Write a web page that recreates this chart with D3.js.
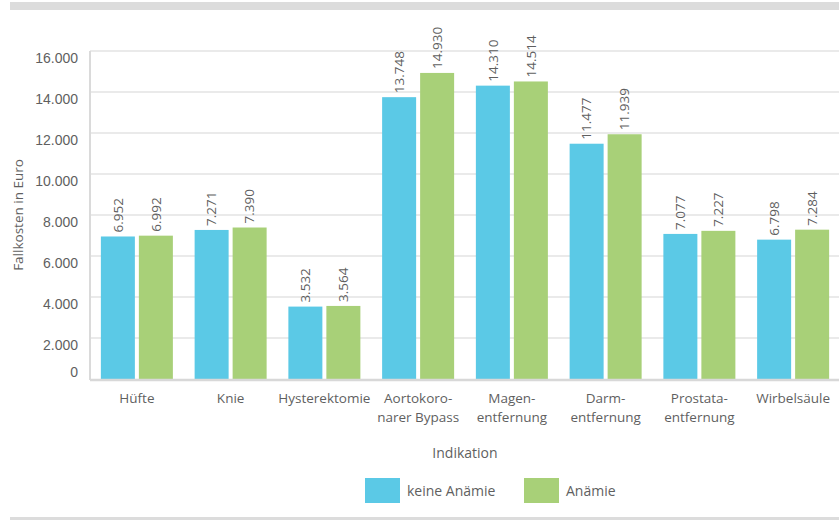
<!DOCTYPE html>
<html>
<head>
<meta charset="utf-8">
<script src="https://cdn.jsdelivr.net/npm/d3@7"></script>
<style>
  body { margin: 0; background: #fff; }
  svg { display: block; font-family: "Open Sans", sans-serif; }
</style>
</head>
<body>
<svg class="chart"></svg>
<script>
// data
var categories = ["Hüfte", "Knie", "Hysterektomie", "Aortokoronarer Bypass", "Magenentfernung", "Darmentfernung", "Prostataentfernung", "Wirbelsäule"];
var categoryLines = [["Hüfte"], ["Knie"], ["Hysterektomie"], ["Aortokoro-", "narer Bypass"], ["Magen-", "entfernung"], ["Darm-", "entfernung"], ["Prostata-", "entfernung"], ["Wirbelsäule"]];
var seriesNames = ["keine Anämie", "Anämie"];
var keineAnaemie = [6952, 7271, 3532, 13748, 14310, 11477, 7077, 6798];
var anaemie = [6992, 7390, 3564, 14930, 14514, 11939, 7227, 7284];
var yTicks = [0, 2000, 4000, 6000, 8000, 10000, 12000, 14000, 16000];
var colors = ["#5bc9e6", "#a8d078"];

var width = 839, height = 520;
var margin = {top: 51, right: 0, bottom: 141, left: 90};
var plotW = 750, plotH = height - margin.top - margin.bottom;

var de = d3.formatLocale({decimal: ",", thousands: ".", grouping: [3], currency: ["", " €"]});
var fmt = de.format(",d");

var data = categories.map(function(c, i) {
  return {cat: c, lines: categoryLines[i], values: [keineAnaemie[i], anaemie[i]]};
});

var svg = d3.select(".chart").attr("width", width).attr("height", height);

// grey bands top and bottom
svg.append("rect").attr("x", 10).attr("y", 2).attr("width", width - 10).attr("height", 8).attr("fill", "#dcdcdc");
svg.append("rect").attr("x", 10).attr("y", 517).attr("width", width - 10).attr("height", 3).attr("fill", "#dcdcdc");

var x0 = d3.scaleBand().domain(categories).range([0, plotW]).paddingInner(0.232).paddingOuter(0.116);
var x1 = d3.scaleBand().domain(seriesNames).range([0, x0.bandwidth()]).paddingInner(4 / 38);
var y = d3.scaleLinear().domain([0, 16000]).range([plotH, 0]);

var chart = svg.append("g").attr("transform", "translate(" + margin.left + "," + margin.top + ")");

// gridlines
chart.append("g").selectAll("line")
  .data(yTicks.filter(function(d) { return d > 0; }))
  .enter().append("line")
  .attr("x1", 0).attr("x2", width - margin.left)
  .attr("y1", function(d) { return y(d); })
  .attr("y2", function(d) { return y(d); })
  .attr("stroke", "#e3e3e3").attr("stroke-width", 1.5);

// y axis
var yAxisG = chart.append("g")
  .call(d3.axisLeft(y).tickValues(yTicks).tickFormat(fmt).tickSize(0).tickPadding(12));
yAxisG.select(".domain").remove();
yAxisG.selectAll("text")
  .attr("fill", "#5f5f5f")
  .style("font-size", "14px")
  .attr("dy", function(d) { return d === 0 ? "-0.15em" : "0.8em"; });

chart.append("line")
  .attr("x1", 0).attr("x2", 0).attr("y1", 0).attr("y2", plotH + 1)
  .attr("stroke", "#dadada").attr("stroke-width", 2);

// bars
var groups = chart.selectAll(".grp")
  .data(data)
  .enter().append("g")
  .attr("class", "grp")
  .attr("transform", function(d) { return "translate(" + x0(d.cat) + ",0)"; });

groups.selectAll("rect")
  .data(function(d) { return d.values.map(function(v, i) { return {s: seriesNames[i], v: v, i: i}; }); })
  .enter().append("rect")
  .attr("x", function(d) { return x1(d.s); })
  .attr("y", function(d) { return y(d.v); })
  .attr("width", x1.bandwidth())
  .attr("height", function(d) { return plotH - y(d.v); })
  .attr("fill", function(d) { return colors[d.i]; });

groups.selectAll(".val")
  .data(function(d) { return d.values.map(function(v, i) { return {s: seriesNames[i], v: v}; }); })
  .enter().append("text")
  .attr("class", "val")
  .attr("transform", function(d) {
    return "translate(" + (x1(d.s) + x1.bandwidth() / 2) + "," + (y(d.v) - 4) + ") rotate(-90)";
  })
  .attr("dy", "0.35em")
  .attr("fill", "#5f5f5f")
  .style("font-size", "13.5px")
  .text(function(d) { return fmt(d.v); });

// baseline
chart.append("line")
  .attr("x1", 0).attr("x2", width - margin.left)
  .attr("y1", plotH + 1).attr("y2", plotH + 1)
  .attr("stroke", "#d8d8d8").attr("stroke-width", 2.5);

// x labels
var xl = chart.selectAll(".xl")
  .data(data)
  .enter().append("text")
  .attr("class", "xl")
  .attr("text-anchor", "middle")
  .attr("fill", "#5f5f5f")
  .style("font-size", "13.5px")
  .attr("transform", function(d) { return "translate(" + (x0(d.cat) + x0.bandwidth() / 2) + "," + (plotH + 24) + ")"; });
xl.selectAll("tspan")
  .data(function(d) { return d.lines; })
  .enter().append("tspan")
  .attr("x", 0)
  .attr("y", function(d, i) { return i * 19; })
  .text(function(d) { return d; });

// axis titles
chart.append("text")
  .attr("x", plotW / 2).attr("y", plotH + 79)
  .attr("text-anchor", "middle")
  .attr("fill", "#5f5f5f")
  .style("font-size", "14px")
  .text("Indikation");

svg.append("text")
  .attr("transform", "translate(23,215) rotate(-90)")
  .attr("text-anchor", "middle")
  .attr("fill", "#5f5f5f")
  .style("font-size", "13.5px")
  .text("Fallkosten in Euro");

// legend
var legX = [365, 524];
var leg = svg.selectAll(".leg")
  .data(seriesNames)
  .enter().append("g")
  .attr("class", "leg")
  .attr("transform", function(d, i) { return "translate(" + legX[i] + ",478)"; });
leg.append("rect").attr("width", 35).attr("height", 25).attr("fill", function(d, i) { return colors[i]; });
leg.append("text")
  .attr("x", 42).attr("y", 13).attr("dy", "0.35em")
  .attr("fill", "#5f5f5f")
  .style("font-size", "14px")
  .text(function(d) { return d; });
</script>
</body>
</html>
